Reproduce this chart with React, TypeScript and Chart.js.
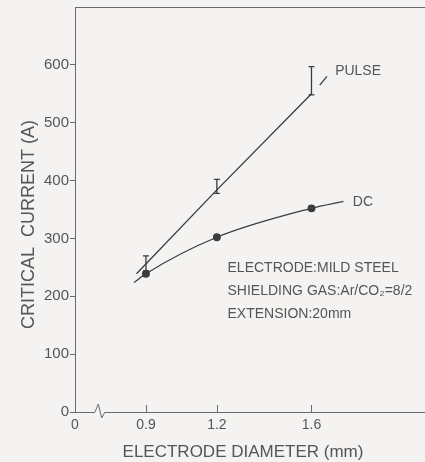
import React, { useEffect, useRef } from 'react';
import { Chart, registerables } from 'chart.js';
Chart.register(...registerables);

// ---- data ----
const xTickValues = [0.6, 0.9, 1.2, 1.6];
const xTickLabels = ['0', '0.9', '1.2', '1.6'];
const yTickValues = [0, 100, 200, 300, 400, 500, 600];

const pulseLineX = [0.86, 1.2, 1.6];
const pulseLineY = [239, 384, 550];
const pulseDashX = [1.635, 1.665];
const pulseDashY = [565, 580];
const pulseBarX = [0.9, 1.2, 1.6];
const pulseBarLow = [244, 378, 548];
const pulseBarHigh = [270, 402, 597];

const dcX = [0.85, 0.9, 1.2, 1.6, 1.735];
const dcY = [224, 239, 302, 352, 364];
const dcMarked = [false, true, true, true, false];

const notes = ['ELECTRODE:MILD STEEL', 'SHIELDING GAS:Ar/CO₂=8/2', 'EXTENSION:20mm'];
const xTitle = 'ELECTRODE DIAMETER (mm)';
const yTitle = 'CRITICAL  CURRENT (A)';

const BG = '#f4f3f1';
const INK = '#3c3c3c';
const TEXT = '#555555';
const AXIS = '#6a6a6a';
const FONT = '"Liberation Sans", Arial, sans-serif';

const decorations = {
  id: 'decorations',
  beforeDraw(chart: any) {
    const { ctx } = chart;
    ctx.save();
    ctx.fillStyle = BG;
    ctx.fillRect(0, 0, chart.width, chart.height);
    ctx.restore();
  },
  afterDraw(chart: any) {
    const { ctx, chartArea: ca } = chart;
    const xs = chart.scales.x;
    const ys = chart.scales.y;
    ctx.save();
    // top frame
    ctx.strokeStyle = AXIS;
    ctx.lineWidth = 1;
    ctx.beginPath();
    ctx.moveTo(ca.left, ca.top + 0.5);
    ctx.lineTo(ca.right, ca.top + 0.5);
    ctx.stroke();
    // inside x ticks
    xTickValues.slice(1).forEach((v) => {
      const px = Math.round(xs.getPixelForValue(v)) + 0.5;
      ctx.beginPath();
      ctx.moveTo(px, ca.bottom);
      ctx.lineTo(px, ca.bottom - 7);
      ctx.stroke();
    });
    // axis break
    const b0 = ca.left + 20;
    ctx.fillStyle = BG;
    ctx.fillRect(b0, ca.bottom - 2, 10, 4);
    ctx.beginPath();
    ctx.moveTo(b0, ca.bottom);
    ctx.lineTo(b0 + 3.3, ca.bottom - 8);
    ctx.lineTo(b0 + 6.7, ca.bottom + 6);
    ctx.lineTo(b0 + 10, ca.bottom);
    ctx.stroke();
    // error bars
    ctx.strokeStyle = INK;
    ctx.lineWidth = 1.3;
    pulseBarX.forEach((v, i) => {
      const px = xs.getPixelForValue(v);
      const lo = ys.getPixelForValue(pulseBarLow[i]);
      const hi = ys.getPixelForValue(pulseBarHigh[i]);
      ctx.beginPath();
      ctx.moveTo(px, lo);
      ctx.lineTo(px, hi);
      ctx.moveTo(px - 3, lo);
      ctx.lineTo(px + 3, lo);
      ctx.moveTo(px - 3, hi);
      ctx.lineTo(px + 3, hi);
      ctx.stroke();
    });
    // series labels
    ctx.fillStyle = TEXT;
    ctx.font = `14px ${FONT}`;
    ctx.textBaseline = 'middle';
    ctx.textAlign = 'left';
    ctx.fillText('PULSE', xs.getPixelForValue(1.7), ys.getPixelForValue(590));
    ctx.fillText('DC', xs.getPixelForValue(1.775), ys.getPixelForValue(362));
    // notes
    const nx = xs.getPixelForValue(1.245);
    const ny = ys.getPixelForValue(248);
    notes.forEach((t, i) => ctx.fillText(t, nx, ny + i * 23));
    // axis titles
    ctx.font = `17px ${FONT}`;
    ctx.textAlign = 'center';
    ctx.fillText(xTitle, (ca.left + ca.right) / 2 - 7, ca.bottom + 40);
    ctx.save();
    ctx.translate(29, (ca.top + ca.bottom) / 2 + 15);
    ctx.rotate(-Math.PI / 2);
    ctx.font = `18px ${FONT}`;
    ctx.fillText(yTitle, 0, 0);
    ctx.restore();
    ctx.restore();
  },
};

export default function App() {
  const ref = useRef<HTMLCanvasElement>(null);
  useEffect(() => {
    document.body.style.margin = '0';
    const chart = new Chart(ref.current as HTMLCanvasElement, {
      type: 'scatter',
      data: {
        datasets: [
          {
            data: dcX.map((x, i) => ({ x, y: dcY[i] })),
            showLine: true,
            borderColor: INK,
            backgroundColor: INK,
            borderWidth: 1.3,
            pointRadius: dcMarked.map((m) => (m ? 3.3 : 0)),
            cubicInterpolationMode: 'monotone',
          },
          {
            data: pulseLineX.map((x, i) => ({ x, y: pulseLineY[i] })),
            showLine: true,
            borderColor: INK,
            borderWidth: 1.3,
            pointRadius: 0,
          },
          {
            data: pulseDashX.map((x, i) => ({ x, y: pulseDashY[i] })),
            showLine: true,
            borderColor: INK,
            borderWidth: 1.3,
            pointRadius: 0,
          },
        ],
      },
      options: {
        animation: false,
        responsive: false,
        layout: { padding: { top: 7, right: 0, left: 0, bottom: 0 } },
        plugins: { legend: { display: false }, tooltip: { enabled: false } },
        scales: {
          x: {
            type: 'linear',
            min: 0.6,
            max: 2.08,
            afterBuildTicks: (s: any) => {
              s.ticks = xTickValues.map((v) => ({ value: v }));
            },
            afterFit: (s: any) => {
              s.height = 50;
              s.paddingLeft = 0;
              s.paddingRight = 0;
            },
            ticks: {
              color: TEXT,
              font: { family: FONT, size: 14 },
              padding: 5,
              maxRotation: 0,
              autoSkip: false,
              callback: (v: any) => {
                const i = xTickValues.findIndex((t) => Math.abs(t - v) < 1e-6);
                return i >= 0 ? xTickLabels[i] : '';
              },
            },
            grid: { drawOnChartArea: false, drawTicks: false },
            border: { display: true, color: AXIS, width: 1 },
          },
          y: {
            type: 'linear',
            min: 0,
            max: 700,
            afterBuildTicks: (s: any) => {
              s.ticks = yTickValues.map((v) => ({ value: v }));
            },
            afterFit: (s: any) => {
              s.width = 75;
              s.paddingTop = 0;
              s.paddingBottom = 0;
            },
            ticks: {
              color: TEXT,
              font: { family: FONT, size: 15 },
              padding: 1,
              autoSkip: false,
            },
            grid: { drawOnChartArea: false, drawTicks: true, tickLength: 5, color: AXIS },
            border: { display: true, color: AXIS, width: 1 },
          },
        },
      },
      plugins: [decorations],
    } as any);
    return () => chart.destroy();
  }, []);
  return (
    <div style={{ width: 425, height: 462 }}>
      <canvas ref={ref} width={425} height={462} style={{ display: 'block' }} />
    </div>
  );
}
